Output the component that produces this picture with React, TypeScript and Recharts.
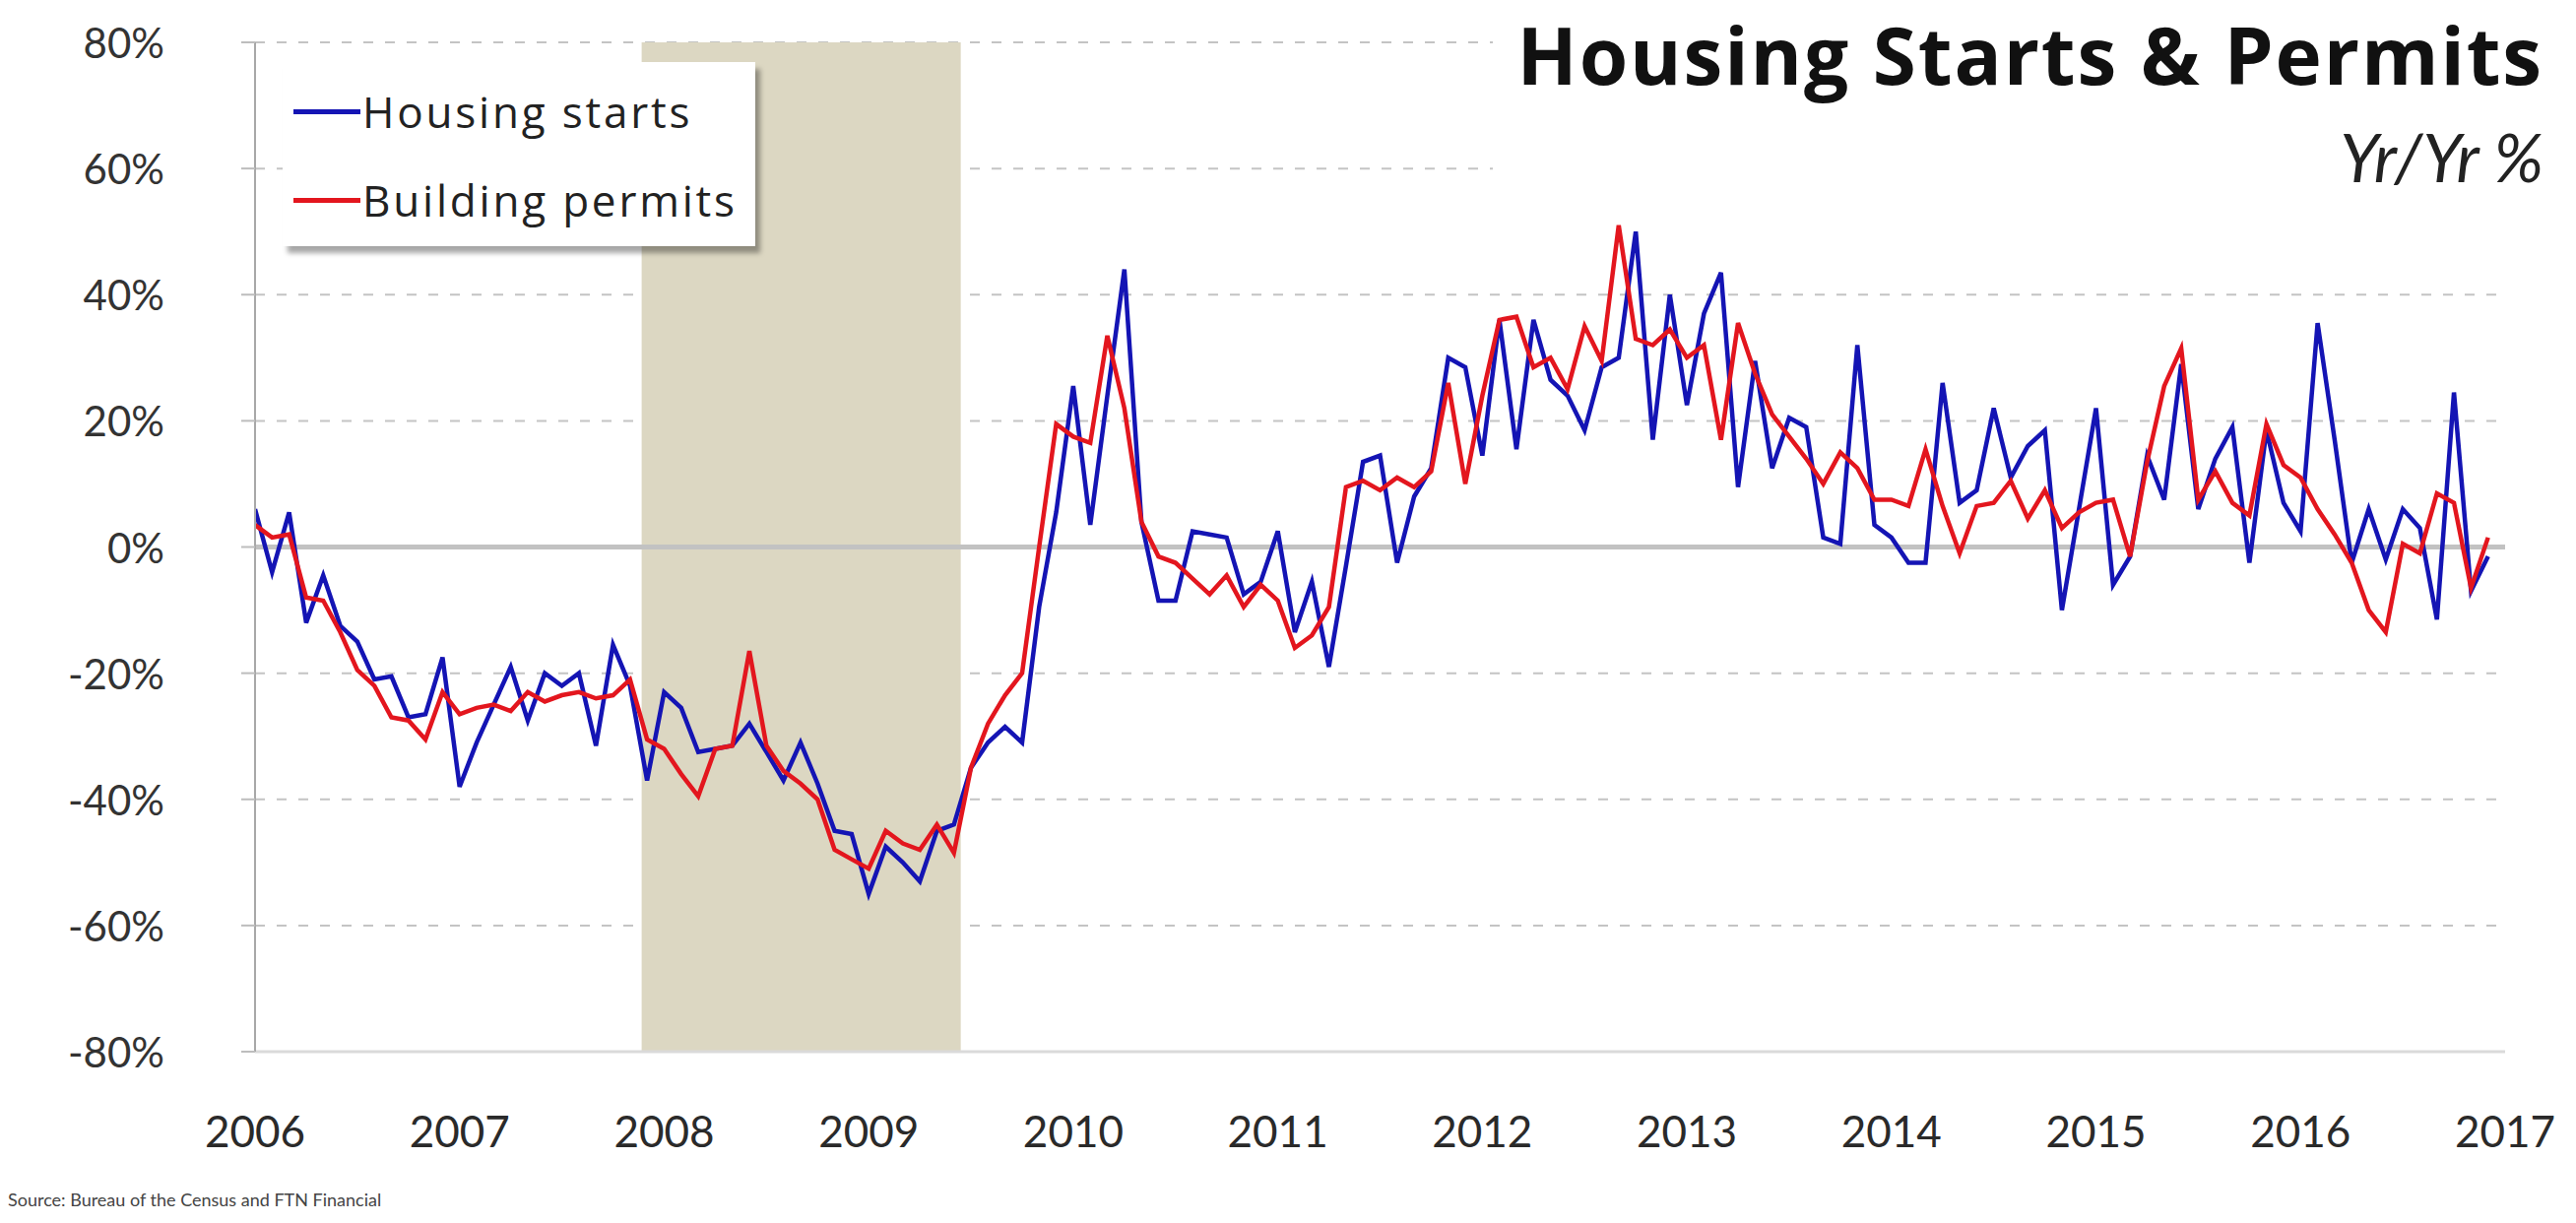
import React from 'react';
import { LineChart, Line, XAxis, YAxis, CartesianGrid, ReferenceArea, ReferenceLine, Legend } from 'recharts';

// Yr/Yr % change, monthly, Jan 2006 .. Dec 2016 (one row per year)
const housingStarts = [
  6, -4, 5.5, -12, -4.5, -12.5, -15, -21, -20.5, -27, -26.5, -17.5,
  -38, -31, -25, -19, -27.5, -20, -22, -20, -31.5, -15.5, -22, -37,
  -23, -25.5, -32.5, -32, -31.5, -28, -32.5, -37, -31, -37.5, -45, -45.5,
  -55, -47.5, -50, -53, -45, -44, -35, -31, -28.5, -31, -9.5, 5.5,
  25.5, 3.5, 24, 44, 4, -8.5, -8.5, 2.5, 2, 1.5, -7.5, -5.5,
  2.5, -13.5, -5.5, -19, -3, 13.5, 14.5, -2.5, 8, 12.5, 30, 28.5,
  14.5, 36, 15.5, 36, 26.5, 24, 18.5, 28.5, 30, 50, 17, 40,
  22.5, 37, 43.5, 9.5, 29.5, 12.5, 20.5, 19, 1.5, 0.5, 32, 3.5,
  1.5, -2.5, -2.5, 26, 7, 9, 22, 11, 16, 18.5, -10, 6,
  22, -6, -1.5, 14.5, 7.5, 29, 6, 14, 19, -2.5, 18.5, 7,
  2.5, 35.5, 17, -2.5, 6, -2, 6, 3, -11.5, 24.5, -7, -1.5,
];

const buildingPermits = [
  3.5, 1.5, 2, -8, -8.5, -13.5, -19.5, -22, -27, -27.5, -30.5, -23,
  -26.5, -25.5, -25, -26, -23, -24.5, -23.5, -23, -24, -23.5, -21, -30.5,
  -32, -36, -39.5, -32, -31.5, -16.5, -31.5, -35.5, -37.5, -40, -48, -49.5,
  -51, -45, -47, -48, -44, -48.5, -35, -28, -23.5, -20, 0, 19.5,
  17.5, 16.5, 33.5, 22, 4, -1.5, -2.5, -5, -7.5, -4.5, -9.5, -6,
  -8.5, -16, -14, -9.5, 9.5, 10.5, 9, 11, 9.5, 12, 26, 10,
  24, 36, 36.5, 28.5, 30, 25, 35, 29.5, 51, 33, 32, 34.5,
  30, 32, 17, 35.5, 27.5, 21, 17.5, 14, 10, 15, 12.5, 7.5,
  7.5, 6.5, 15.5, 6.5, -1, 6.5, 7, 10.5, 4.5, 9, 3, 5.5,
  7, 7.5, -1.5, 13.5, 25.5, 31.5, 7.5, 12, 7, 5, 19.5, 13,
  11, 6, 2, -2.5, -10, -13.5, 0.5, -1, 8.5, 7, -6.5, 1.5,
];

const yearTicks = [2006, 2007, 2008, 2009, 2010, 2011, 2012, 2013, 2014, 2015, 2016, 2017];
const pctTicks = [-80, -60, -40, -20, 0, 20, 40, 60, 80];
const recessionStart = 2007.89;
const recessionEnd = 2009.45;

const series = [
  { key: 'starts', name: 'Housing starts', color: '#1414B4' },
  { key: 'permits', name: 'Building permits', color: '#E3161E' },
];

const data = housingStarts.map((v, i) => ({
  date: 2006 + i / 12,
  starts: v,
  permits: buildingPermits[i],
}));

const FONT = 'Lato, "Open Sans", sans-serif';
const WIDE_FONT = '"Open Sans", Lato, sans-serif';

const XTick = (props: any) => {
  const { x, y, payload } = props;
  return (
    <text x={x} y={y} dy={80} textAnchor="middle" dominantBaseline="central"
      fontFamily={FONT} fontSize={44} fill="#2a2a2a">
      {payload.value}
    </text>
  );
};

const YTick = (props: any) => {
  const { x, y, payload } = props;
  return (
    <text x={x} y={y} textAnchor="end" dominantBaseline="central"
      fontFamily={FONT} fontSize={42} fill="#333">
      {payload.value}%
    </text>
  );
};

const LegendBox = () => (
  <div style={{
    width: 480, height: 187, background: '#fff', boxSizing: 'border-box',
    boxShadow: '5px 7px 5px rgba(0,0,0,0.35)', paddingTop: 5, paddingLeft: 11,
    fontFamily: WIDE_FONT, fontSize: 44, color: '#222', letterSpacing: 2.8,
  }}>
    {series.map((s) => (
      <div key={s.key} style={{ display: 'flex', alignItems: 'center', height: 90, whiteSpace: 'nowrap' }}>
        <span style={{ display: 'inline-block', width: 68, height: 5, background: s.color, marginRight: 2 }} />
        <span>{s.name}</span>
      </div>
    ))}
  </div>
);

export default function App() {
  return (
    <div style={{ position: 'absolute', left: 0, top: 0, width: 2616, height: 1242, background: '#fff' }}>
      <LineChart width={2616} height={1242} data={data}
        margin={{ top: 43, right: 72, bottom: 64, left: 0 }}>
        <CartesianGrid vertical={false} stroke="#C4C4C4" strokeDasharray="10 12" strokeWidth={2} />
        <ReferenceArea x1={recessionStart} x2={recessionEnd} fill="#DCD7C2" fillOpacity={1} stroke="none" />
        <ReferenceLine y={0} stroke="#C2C2C2" strokeWidth={5} />
        <XAxis type="number" dataKey="date" domain={[2006, 2017]} ticks={yearTicks} interval={0}
          allowDataOverflow height={110} tickLine={false} tickSize={0} tickMargin={0}
          axisLine={{ stroke: '#DADADA', strokeWidth: 3 }} tick={<XTick />} />
        <YAxis type="number" domain={[-80, 80]} ticks={pctTicks} interval={0} width={259}
          tickSize={14} tickMargin={78} tickLine={{ stroke: '#BDBDBD', strokeWidth: 2 }}
          axisLine={{ stroke: '#A8A8A8', strokeWidth: 2 }} tick={<YTick />} />
        <Legend layout="horizontal" verticalAlign="middle" align="center" content={<LegendBox />}
          wrapperStyle={{ position: 'absolute', left: 287, top: 63, width: 480, height: 187 }} />
        {series.map((s) => (
          <Line key={s.key} type="linear" dataKey={s.key} name={s.name} stroke={s.color}
            strokeWidth={4.5} dot={false} activeDot={false} isAnimationActive={false} />
        ))}
      </LineChart>
      <div style={{
        position: 'absolute', left: 1516, top: 0, width: 1100, height: 205, background: '#fff',
        color: '#111',
      }}>
        <div style={{ position: 'absolute', right: 33, top: 3, fontFamily: WIDE_FONT, fontSize: 80, fontWeight: 700, lineHeight: 1.3, whiteSpace: 'nowrap', letterSpacing: 1.9 }}>
          Housing Starts &amp; Permits
        </div>
        <div style={{ position: 'absolute', right: 33, top: 118, fontFamily: FONT, fontSize: 68, fontStyle: 'italic', lineHeight: 1.2, whiteSpace: 'nowrap', color: '#222' }}>
          Yr/Yr %
        </div>
      </div>
      <div style={{ position: 'absolute', left: 8, top: 1207, fontFamily: FONT, fontSize: 18, lineHeight: '22px', color: '#444' }}>
        Source: Bureau of the Census and FTN Financial
      </div>
    </div>
  );
}
